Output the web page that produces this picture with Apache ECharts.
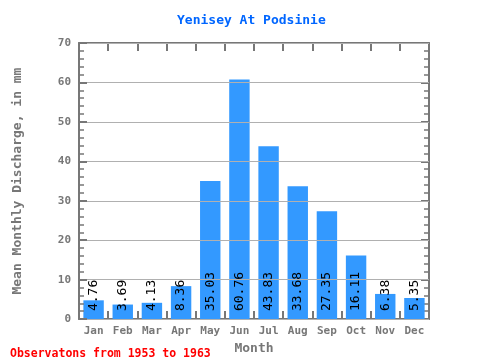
<!DOCTYPE html>
<html><head><meta charset="utf-8">
<script src="https://cdn.jsdelivr.net/npm/echarts@6/dist/echarts.min.js"></script>
<style>html,body{margin:0;padding:0;background:#fff}#c{width:480px;height:360px}</style>
</head><body><div id="c"></div>
<script>
var categories = ['Jan','Feb','Mar','Apr','May','Jun','Jul','Aug','Sep','Oct','Nov','Dec'];
var discharge = [4.76, 3.69, 4.13, 8.36, 35.03, 60.76, 43.83, 33.68, 27.35, 16.11, 6.38, 5.35];
var titleText = 'Yenisey At Podsinie';
var footerText = 'Observatons from 1953 to 1963';
var FONT = 'DejaVu Sans Mono';
var GRAY = '#777777';
var chart = echarts.init(document.getElementById('c'), null, {renderer:'canvas'});
function tick(){ return {show:true, inside:true, length:8, interval:0, alignWithLabel:false, lineStyle:{color:GRAY, width:2}}; }
function minor(){ return {show:true, splitNumber:5, length:5, lineStyle:{color:GRAY, width:1.5}}; }
function line(){ return {show:true, onZero:false, lineStyle:{color:GRAY, width:2}}; }
chart.setOption({
  animation:false,
  title:[
    {text:titleText, left:172, top:9, textStyle:{fontFamily:FONT, fontSize:13, fontWeight:'bold', color:'#0066ff'}},
    {text:footerText, left:5, top:343, textStyle:{fontFamily:FONT, fontSize:11.5, fontWeight:'bold', color:'#ff0000'}}
  ],
  grid:{left:79, right:51, top:43, bottom:39, containLabel:false},
  xAxis:[
    {type:'category', data:categories, position:'bottom',
     name:'Month', nameLocation:'middle', nameGap:20,
     nameTextStyle:{fontFamily:FONT, fontSize:13, fontWeight:'bold', color:GRAY},
     axisLine:line(), axisTick:tick(),
     axisLabel:{fontFamily:FONT, fontSize:11, fontWeight:'bold', color:GRAY, margin:7, interval:0}},
    {type:'category', data:categories, position:'top',
     axisLine:line(), axisTick:tick(), axisLabel:{show:false}}
  ],
  yAxis:[
    {type:'value', min:0, max:70, interval:10, position:'left', z:3,
     name:'Mean Monthly Discharge, in mm', nameLocation:'middle', nameGap:55,
     nameTextStyle:{fontFamily:FONT, fontSize:13, fontWeight:'bold', color:GRAY},
     axisLine:line(), axisTick:tick(), minorTick:minor(),
     splitLine:{show:true, lineStyle:{color:'#b0b0b0', width:1}},
     axisLabel:{fontFamily:FONT, fontSize:11, fontWeight:'bold', color:GRAY, margin:8}},
    {type:'value', min:0, max:70, interval:10, position:'right',
     axisLine:line(), axisTick:tick(), minorTick:minor(),
     splitLine:{show:false}, axisLabel:{show:false}}
  ],
  series:[{
    type:'bar', data:discharge, xAxisIndex:0, yAxisIndex:0, barCategoryGap:'30%', z:2,
    itemStyle:{color:'#3399ff'},
    label:{show:true, position:'insideBottom', rotate:90, align:'left', verticalAlign:'middle',
      distance:8, fontFamily:FONT, fontSize:13, color:'#000'}
  }]
});
</script></body></html>
